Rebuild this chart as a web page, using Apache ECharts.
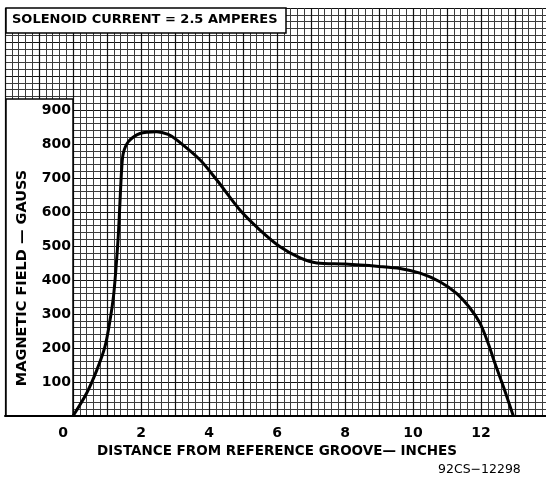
<!DOCTYPE html>
<html>
<head>
<meta charset="utf-8">
<script src="https://cdn.jsdelivr.net/npm/echarts@6/dist/echarts.min.js"></script>
<style>
html, body { margin: 0; padding: 0; background: #fff; }
#chart { width: 546px; height: 477px; }
</style>
</head>
<body>
<div id="chart"></div>
<script>
// distance from reference groove (inches) and field (gauss)
var distance = [0, 0.4, 0.7, 0.94, 1.09, 1.19, 1.26, 1.33, 1.38, 1.43, 1.48, 1.63, 1.97, 2.46, 2.8, 3.05, 3.74, 4.23, 4.91, 5.5, 6.09, 6.68, 7.17, 8, 9, 9.62, 10.21, 10.79, 11.28, 11.68, 11.97, 12.21, 12.41, 12.66, 12.95];
var gauss = [0, 67, 135, 204, 282, 351, 429, 527, 626, 724, 773, 807, 831, 836, 828, 812, 753, 694, 606, 547, 498, 465, 450, 447, 440, 434, 420, 395, 361, 317, 273, 214, 155, 86, 0];
var xTicks = [0, 2, 4, 6, 8, 10, 12];
var yTicks = [100, 200, 300, 400, 500, 600, 700, 800, 900];

var font = 'DejaVu Sans';
var points = [];
for (var i = 0; i < distance.length; i++) {
    points.push([distance[i], gauss[i]]);
}

var chart = echarts.init(document.getElementById('chart'), null, { renderer: 'canvas' });

var option = {
    backgroundColor: '#fff',
    animation: false,
    grid: { left: 5, top: 8, width: 544, height: 408, containLabel: false, outerBoundsMode: 'none' },
    xAxis: [{
        // graph paper, vertical lines
        type: 'value', min: -2, max: 14, interval: 1, z: 0,
        axisLine: { show: false }, axisTick: { show: false }, axisLabel: { show: false },
        splitLine: { show: true, lineStyle: { color: '#111', width: 1.2 } },
        minorTick: { show: false, splitNumber: 5 },
        minorSplitLine: { show: true, lineStyle: { color: '#3c3c3c', width: 1 } }
    }, {
        type: 'value', min: -2, max: 14, interval: 1, z: 5, position: 'bottom',
        axisLine: { show: true, onZero: false, lineStyle: { color: '#000', width: 2 } },
        axisTick: { show: false },
        splitLine: { show: false },
        axisLabel: {
            margin: 10, color: '#000', fontFamily: font, fontWeight: 'bold', fontSize: 14,
            formatter: function (v) {
                if (v === 0) return '{z|0}';
                return xTicks.indexOf(v) >= 0 ? String(v) : '';
            },
            rich: { z: { padding: [0, 20, 0, 0], fontFamily: font, fontWeight: 'bold', fontSize: 14, color: '#000' } }
        },
        name: 'DISTANCE FROM REFERENCE GROOVE\u2014 INCHES',
        nameLocation: 'middle', nameGap: 26,
        nameTextStyle: { color: '#000', fontFamily: font, fontSize: 13.5, fontWeight: 'bold' }
    }],
    yAxis: [{
        // graph paper, horizontal lines
        type: 'value', min: 0, max: 1200, interval: 100, z: 0,
        axisLine: { show: false }, axisTick: { show: false }, axisLabel: { show: false },
        splitLine: { show: true, lineStyle: { color: '#111', width: 1.2 } },
        minorTick: { show: false, splitNumber: 5 },
        minorSplitLine: { show: true, lineStyle: { color: '#3c3c3c', width: 1 } }
    }, {
        type: 'value', min: 0, max: 1200, interval: 100, z: 5,
        position: 'left', offset: -68,
        axisLine: { show: false, onZero: false },
        axisTick: { show: false },
        splitLine: { show: false },
        axisLabel: {
            margin: 2, color: '#000', fontFamily: font, fontWeight: 'bold', fontSize: 14,
            formatter: function (v) { return yTicks.indexOf(v) >= 0 ? String(v) : ''; }
        }
    }],
    graphic: [{
        type: 'rect', z: 3,
        shape: { x: 6, y: 99, width: 67, height: 317 },
        style: { fill: '#fff', stroke: '#000', lineWidth: 1.5 }
    }, {
        type: 'rect', z: 3,
        shape: { x: 6, y: 8, width: 280, height: 25 },
        style: { fill: '#fff', stroke: '#000', lineWidth: 1.5 }
    }, {
        type: 'text', z: 6, left: 12, top: 13,
        style: { text: 'SOLENOID CURRENT = 2.5 AMPERES', fill: '#000', font: 'bold 13px "DejaVu Sans"' }
    }, {
        type: 'text', z: 6, x: 22, y: 278, rotation: Math.PI / 2,
        style: { text: 'MAGNETIC FIELD \u2014 GAUSS', fill: '#000', font: 'bold 14.5px "DejaVu Sans"', align: 'center', verticalAlign: 'middle' }
    }, {
        type: 'text', z: 6, left: 438, top: 463,
        style: { text: '92CS\u221212298', fill: '#000', font: '12.5px "DejaVu Sans"' }
    }],
    series: [{
        type: 'line',
        xAxisIndex: 1, yAxisIndex: 1, z: 4,
        data: points,
        smooth: 0.3,
        symbol: 'none',
        lineStyle: { color: '#000', width: 3 }
    }]
};

chart.setOption(option);
</script>
</body>
</html>
